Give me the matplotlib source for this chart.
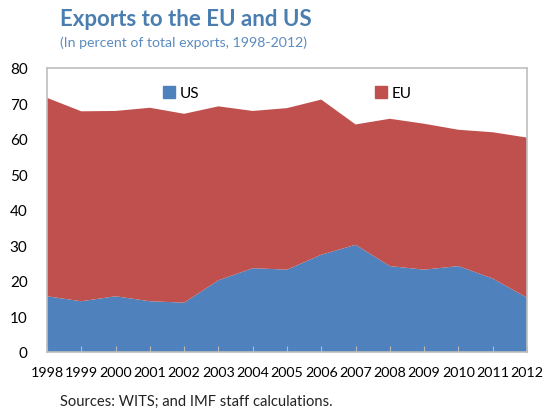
import matplotlib.pyplot as plt
from matplotlib.patches import Patch
import numpy as np

plt.rcParams['font.family'] = ['Lato', 'DejaVu Sans']

# data
years = [1998, 1999, 2000, 2001, 2002, 2003, 2004, 2005, 2006, 2007,
         2008, 2009, 2010, 2011, 2012]
us = np.array([15.7, 14.3, 15.7, 14.3, 13.9, 20.2, 23.6, 23.2, 27.4, 30.2,
               24.2, 23.2, 24.2, 20.7, 15.3])
eu = np.array([55.9, 53.5, 52.2, 54.5, 53.2, 49.0, 44.3, 45.5, 43.7, 33.9,
               41.5, 41.1, 38.4, 41.2, 45.1])
yticks = [0, 10, 20, 30, 40, 50, 60, 70, 80]

blue = '#4F81BD'
red = '#C0504D'

fig = plt.figure(figsize=(5.44, 4.10), dpi=100)
ax = fig.add_axes([47/544, 1 - 353/410, 480/544, 284/410])

ax.stackplot(years, us, eu, colors=[blue, red], linewidth=0)

ax.set_xlim(years[0], years[-1])
ax.set_ylim(0, 80)
ax.set_yticks(yticks)
ax.set_xticks(years)
ax.set_xticklabels([str(y) for y in years], fontsize=10.3)
ax.tick_params(axis='y', length=0, labelsize=11, pad=14)
ax.tick_params(axis='x', direction='in', length=4, color='#bbbbbb',
               pad=10)
for s in ax.spines.values():
    s.set_color('#bfbfbf')
    s.set_linewidth(1.2)
ax.set_axisbelow(False)

handles = [Patch(color=blue, label='US'), Patch(color=red, label='EU')]
ax.legend(handles=handles, ncol=2, loc='upper center',
          bbox_to_anchor=(0.5, 0.985), frameon=False, fontsize=11,
          handlelength=0.8, handleheight=0.8, handletextpad=0.3,
          columnspacing=11.5)

fig.text(60/544, 1 - 20/410, 'Exports to the EU and US', fontsize=16,
         fontweight='bold', color='#4A7EB0', va='center')
fig.text(60/544, 1 - 43/410, '(In percent of total exports, 1998-2012)',
         fontsize=10.2, color='#5B8CBF', va='center')
fig.text(60/544, 1 - 402/410, 'Sources: WITS; and IMF staff calculations.',
         fontsize=10.6, color='#222222', va='center')

fig.savefig('out.png', dpi=100)
